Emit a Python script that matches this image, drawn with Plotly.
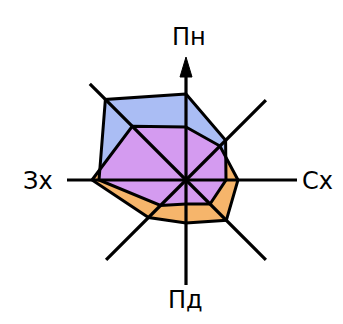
import numpy as np
import plotly.graph_objects as go

# wind rose: directions clockwise from north
directions = ["Пн", "ПнСх", "Сх", "ПдСх", "Пд", "ПдЗх", "Зх", "ПнЗх"]
angles_deg = [90, 45, 0, -45, -90, -135, 180, 135]

# (1 unit = 10 px)
blue_vals = [8.6, 5.6, 4.0, 3.4, 2.4, 3.6, 8.7, 11.4]
orange_vals = [5.3, 4.8, 5.2, 5.7, 4.3, 5.3, 9.4, 7.6]

label_dirs = ["Пн", "Сх", "Пд", "Зх"]

SCALE = 10
spoke_len = [123, 113, 111, 113, 105, 113, 119, 136]
label_pos = {"Пн": (3, 143), "Сх": (131, -1), "Пд": (-1, -120), "Зх": (-148, -1)}

BLUE = "#aabdf4"
ORANGE = "#f6b56b"
PURPLE = "#d49bf0"

ang = np.radians(angles_deg)


def to_xy(vals):
    r = np.array(vals) * SCALE
    return r * np.cos(ang), r * np.sin(ang)


def overlap(v1, v2):
    # intersection of two star polygons around the same centre
    x1, y1 = to_xy(v1)
    x2, y2 = to_xy(v2)
    n = len(v1)
    px, py = [], []
    for i in range(n):
        j = (i + 1) % n
        if v1[i] <= v2[i]:
            px.append(x1[i]); py.append(y1[i])
        else:
            px.append(x2[i]); py.append(y2[i])
        d1 = v1[i] - v2[i]
        d2 = v1[j] - v2[j]
        if d1 * d2 < 0:
            a = np.array([x1[i], y1[i]]); b = np.array([x1[j], y1[j]])
            c = np.array([x2[i], y2[i]]); d = np.array([x2[j], y2[j]])
            m = np.array([b - a, c - d]).T
            t = np.linalg.solve(m, c - a)[0]
            p = a + t * (b - a)
            px.append(p[0]); py.append(p[1])
    return px, py


bx, by = to_xy(blue_vals)
ox, oy = to_xy(orange_vals)
ix, iy = overlap(blue_vals, orange_vals)

fig = go.Figure()


def closed(x, y):
    return list(x) + [x[0]], list(y) + [y[0]]


for (x, y), col in [((bx, by), BLUE), ((ox, oy), ORANGE), ((ix, iy), PURPLE)]:
    cx, cy = closed(x, y)
    fig.add_trace(go.Scatter(x=cx, y=cy, mode="lines", fill="toself", fillcolor=col,
                             line=dict(width=0), hoverinfo="skip"))

# spokes
sx, sy = [], []
HEAD = 20
for a, L, d in zip(ang, spoke_len, directions):
    end = L - HEAD if d == "Пн" else L
    sx += [0, end * np.cos(a), None]
    sy += [0, end * np.sin(a), None]
fig.add_trace(go.Scatter(x=sx, y=sy, mode="lines", line=dict(color="black", width=3.2),
                         hoverinfo="skip"))

# arrow head on north spoke
tip = spoke_len[0]
fig.add_trace(go.Scatter(x=[0, -6, 6, 0], y=[tip, tip - HEAD, tip - HEAD, tip], mode="lines",
                         fill="toself", fillcolor="black", line=dict(color="black", width=1),
                         hoverinfo="skip"))

# outlines
for x, y in [(bx, by), (ox, oy)]:
    cx, cy = closed(x, y)
    fig.add_trace(go.Scatter(x=cx, y=cy, mode="lines", line=dict(color="black", width=3),
                             hoverinfo="skip"))

for lab in label_dirs:
    x, y = label_pos[lab]
    fig.add_annotation(x=x, y=y, text=lab, showarrow=False,
                       font=dict(family="DejaVu Sans", size=24, color="black"))

# page body has an 8px margin, so the figure is 8px smaller and the centre shifted
fig.update_xaxes(visible=False, range=[-178, 157])
fig.update_yaxes(visible=False, range=[-144, 172])
fig.update_layout(width=335, height=316, margin=dict(l=0, r=0, t=0, b=0),
                  plot_bgcolor="white", paper_bgcolor="white", showlegend=False)
fig.write_html("out.html")
